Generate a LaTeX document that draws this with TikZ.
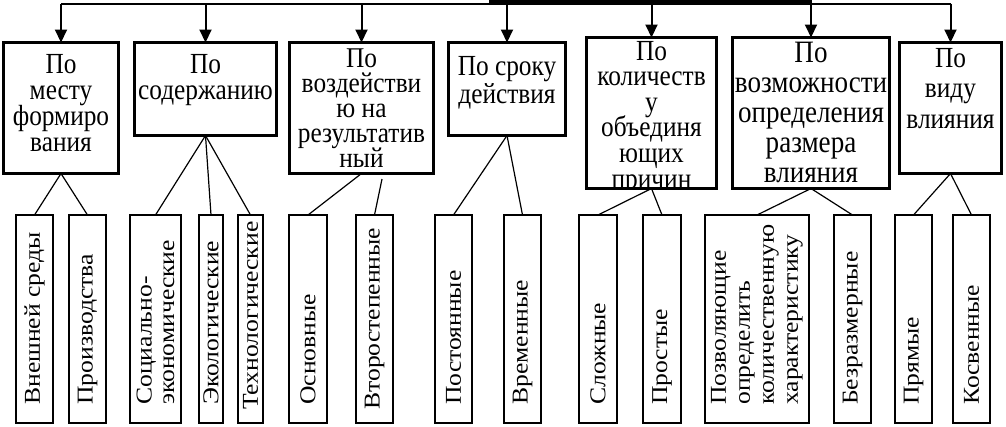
\documentclass[tikz,border=0pt]{standalone}
\usepackage{graphicx}
\usepackage{fontspec}
\setmainfont{Liberation Serif}
\usetikzlibrary{arrows.meta}
\newcommand\stkc[4]{\scalebox{#1}[#2]{\vtop{\baselineskip=#3\lineskiplimit=-50pt\halign{\hfil##\hfil\cr#4\crcr}}}}
\newcommand\stkl[4]{\scalebox{#1}[#2]{\vtop{\baselineskip=#3\lineskiplimit=-50pt\halign{##\hfil\cr#4\crcr}}}}
\begin{document}
\begin{tikzpicture}[x=0.75pt,y=-0.75pt,
  topbox/.style 2 args={draw, line width=2.2pt, minimum width=#1*0.75pt, minimum height=#2*0.75pt, inner sep=0pt, outer sep=0pt},
  botbox/.style={draw, line width=1.2pt, minimum width=#1*0.75pt, minimum height=156pt, inner sep=0pt, outer sep=0pt},
  toptext/.style={anchor=base, inner sep=0pt, font=\fontsize{19}{19}\selectfont},
  vtext/.style={rotate=90, anchor=west, inner sep=0pt, font=\fontsize{17}{17}\selectfont},
  arr/.style={line width=1.5pt, -{Triangle[length=9.75pt,width=9pt]}},
  conn/.style={line width=0.9pt}]
\useasboundingbox (0,0) rectangle (1006,426);
% top boxes
\node[topbox={115}{131}] (b1) at (61,108) {};
\node[topbox={142}{93}] (b2) at (205.5,89) {};
\node[topbox={144}{131}] (b3) at (361.5,108) {};
\node[topbox={117}{93}] (b4) at (507,89) {};
\node[topbox={130}{151}] (b5) at (651.5,113) {};
\node[topbox={157}{151}] (b6) at (811,113) {};
\node[topbox={102}{131}] (b7) at (950.5,108) {};
% texts in top boxes
\node[toptext] (t1) at (61,73) {\stkc{1}{1.15}{17.1pt}{По\cr месту\cr формиро\cr вания}};
\node[toptext] (t2) at (205.5,73) {\stkc{1}{1.15}{17.6pt}{По\cr содержанию}};
\node[toptext] (t3) at (361.5,67) {\stkc{1}{1.13}{16.7pt}{По\cr воздействи\cr ю на\cr результатив\cr ный}};
\node[toptext] (t4) at (507,75) {\stkc{1}{1.15}{18.3pt}{По сроку\cr действия}};
\begin{scope}
\clip (b5.south west) rectangle (b5.north east);
\node[toptext] (t5) at (651.5,60) {\stkc{1}{1.15}{16.7pt}{По\cr количеств\cr у\cr объединя\cr ющих\cr причин}};
\end{scope}
\node[toptext, font=\fontsize{20.3}{20}\selectfont] (t6) at (811,62) {\stkc{1}{1.15}{19.6pt}{По\cr возможности\cr определения\cr размера\cr влияния}};
\node[toptext] (t7) at (950.5,67) {\stkc{1}{1.15}{19.9pt}{По\cr виду\cr влияния}};
% top distribution line
\coordinate (L1) at (61,3.5);
\coordinate (L2) at (951,3.5);
\coordinate (K1) at (489,2);
\coordinate (K2) at (812,2);
\draw[line width=1.5pt] (L1) -- (L2);
\draw[line width=3.5pt] (K1) -- (K2);
\foreach \b in {b1,b2,b3,b4,b5,b6,b7}{
  \draw[arr] (\b.north |- L1) -- (\b.north);
}
% bottom boxes
\node[botbox=37] (a1) at (34.5,319) {};
\node[botbox=37] (a2) at (87.5,319) {};
\node[botbox=51] (c1) at (155.5,319) {};
\node[botbox=24] (c2) at (211,319) {};
\node[botbox=25] (c3) at (250.5,319) {};
\node[botbox=38] (d1) at (308,319) {};
\node[botbox=37] (d2) at (374.5,319) {};
\node[botbox=37] (e1) at (453.5,319) {};
\node[botbox=37] (e2) at (522.5,319) {};
\node[botbox=38] (f1) at (598,319) {};
\node[botbox=38] (f2) at (662,319) {};
\node[botbox=104] (g1) at (757,319) {};
\node[botbox=37] (g2) at (852.5,319) {};
\node[botbox=37] (h1) at (913.5,319) {};
\node[botbox=37] (h2) at (971.5,319) {};
% vertical texts
\node[vtext] (va1) at (34.5,405) {\stkl{1.13}{1}{18pt}{Внешней среды}};
\node[vtext] (va2) at (87.5,405) {\stkl{1.13}{1}{18pt}{Производства}};
\node[vtext] (vc1) at (155.5,405) {\stkl{1.13}{1}{17pt}{Социально-\cr экономические}};
\node[vtext] (vc2) at (211,405) {\stkl{1.13}{1}{18pt}{Экологические}};
\node[vtext] (vc3) at (250.5,410) {\stkl{1.13}{1}{18pt}{Технологические}};
\node[vtext] (vd1) at (308,405) {\stkl{1.13}{1}{18pt}{Основные}};
\node[vtext] (vd2) at (374.5,410) {\stkl{1.13}{1}{18pt}{Второстепенные}};
\node[vtext] (ve1) at (453.5,405) {\stkl{1.13}{1}{18pt}{Постоянные}};
\node[vtext] (ve2) at (522.5,405) {\stkl{1.13}{1}{18pt}{Временные}};
\node[vtext] (vf1) at (598,405) {\stkl{1.13}{1}{18pt}{Сложные}};
\node[vtext] (vf2) at (662,405) {\stkl{1.13}{1}{18pt}{Простые}};
\node[vtext] (vg1) at (757,405) {\stkl{1.13}{1}{18pt}{Позволяющие\cr определить\cr количественную\cr характеристику}};
\node[vtext] (vg2) at (852.5,405) {\stkl{1.13}{1}{18pt}{Безразмерные}};
\node[vtext] (vh1) at (913.5,405) {\stkl{1.13}{1}{18pt}{Прямые}};
\node[vtext] (vh2) at (971.5,405) {\stkl{1.13}{1}{18pt}{Косвенные}};
% connectors
\coordinate (b3r) at (382,179);
\draw[conn] (b1.south) -- (a1.north);
\draw[conn] (b1.south) -- (a2.north);
\draw[conn] (b2.south) -- (c1.north);
\draw[conn] (b2.south) -- (c2.north);
\draw[conn] (b2.south) -- (c3.north);
\draw[conn] (b3.south) -- (d1.north);
\draw[conn] (b3r) -- (d2.north);
\draw[conn] (b4.south) -- (e1.north);
\draw[conn] (b4.south) -- (e2.north);
\draw[conn] (b5.south) -- (f1.north);
\draw[conn] (b5.south) -- (f2.north);
\draw[conn] (b6.south) -- (g1.north);
\draw[conn] (b6.south) -- (g2.north);
\draw[conn] (b7.south) -- (h1.north);
\draw[conn] (b7.south) -- (h2.north);
\end{tikzpicture}
\end{document}
